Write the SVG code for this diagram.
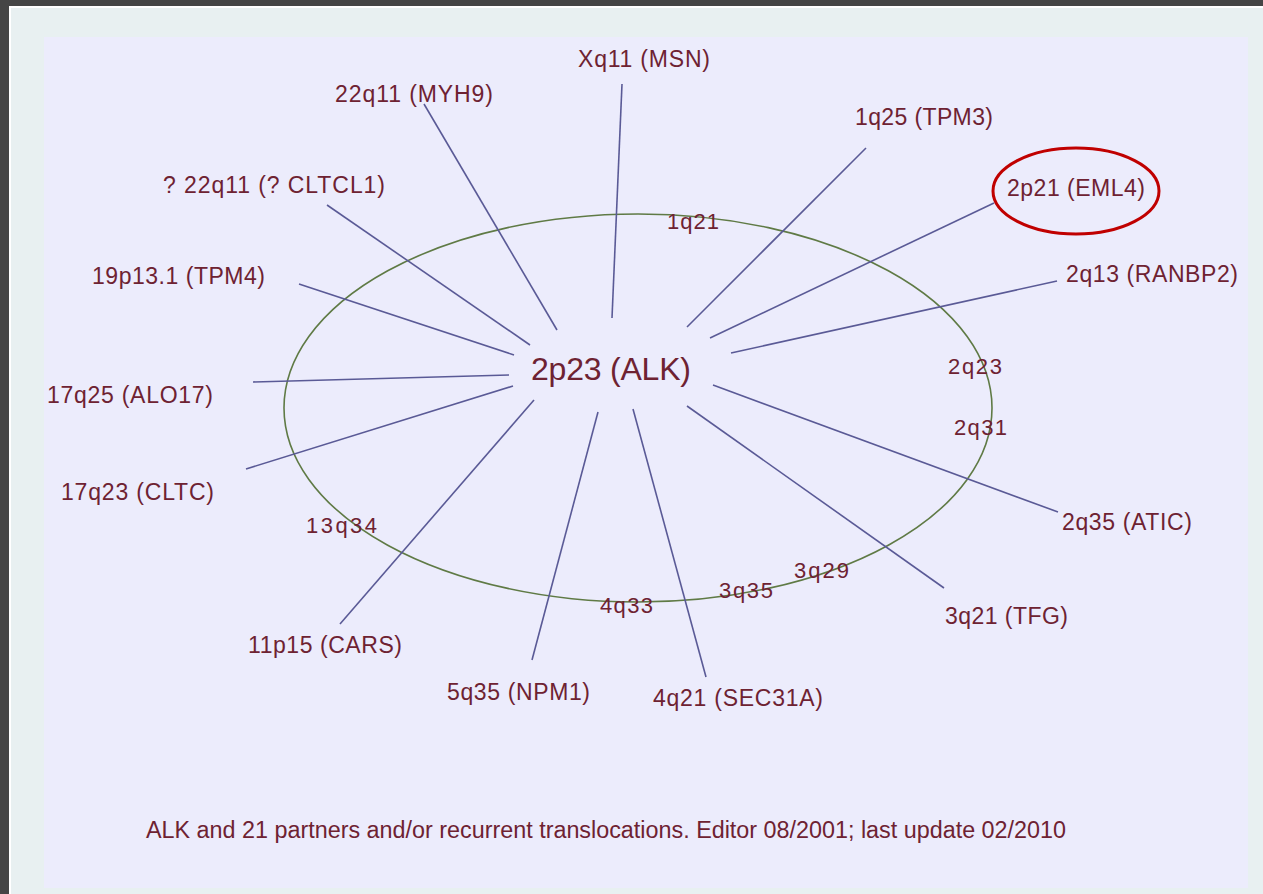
<svg xmlns="http://www.w3.org/2000/svg" width="1263" height="894" viewBox="0 0 1263 894">
<style>
.lbl{font-family:"Liberation Sans",Arial,sans-serif;font-size:23px;fill:#6e2232}
.band{font-family:"Liberation Sans",Arial,sans-serif;font-size:22px;fill:#6e2232}
.ln{stroke:#5a5a96;stroke-width:1.6;fill:none}
</style>
<rect x="0" y="0" width="1263" height="894" fill="#454545"/>
<rect x="9" y="6" width="1254" height="888" fill="#ffffff"/>
<rect x="11" y="8" width="1252" height="886" fill="#e8f0f1"/>
<rect x="44" y="37" width="1204" height="851" fill="#ececfc"/>
<g id="chromosome">
<ellipse cx="638" cy="408" rx="354" ry="194" fill="none" stroke="#5f7a45" stroke-width="1.6"/>
</g>
<g id="connectors">
<line class="ln" x1="622" y1="84" x2="612" y2="318"/>
<line class="ln" x1="424" y1="104" x2="557" y2="330"/>
<line class="ln" x1="866" y1="148" x2="687" y2="327"/>
<line class="ln" x1="327" y1="205" x2="530" y2="345"/>
<line class="ln" x1="994" y1="203" x2="710" y2="338"/>
<line class="ln" x1="299" y1="284" x2="514" y2="355"/>
<line class="ln" x1="1057" y1="281" x2="731" y2="353"/>
<line class="ln" x1="253" y1="382" x2="509" y2="375"/>
<line class="ln" x1="246" y1="469" x2="513" y2="386"/>
<line class="ln" x1="340" y1="624" x2="534" y2="400"/>
<line class="ln" x1="532" y1="660" x2="598" y2="412"/>
<line class="ln" x1="706" y1="677" x2="633" y2="409"/>
<line class="ln" x1="944" y1="588" x2="687" y2="406"/>
<line class="ln" x1="1058" y1="512" x2="713" y2="385"/>
</g>
<g id="bands">
<text class="band" x="667" y="229" textLength="52">1q21</text>
<text class="band" x="948" y="374" textLength="54">2q23</text>
<text class="band" x="954" y="435" textLength="53">2q31</text>
<text class="band" x="306" y="533" textLength="71">13q34</text>
<text class="band" x="600" y="613" textLength="53">4q33</text>
<text class="band" x="719" y="598" textLength="54">3q35</text>
<text class="band" x="794" y="578" textLength="55">3q29</text>
</g>
<g id="center"><text class="lbl" x="531" y="380" style="font-size:32px" textLength="160">2p23 (ALK)</text></g>
<g id="n-msn"><text class="lbl" x="578" y="67" textLength="132">Xq11 (MSN)</text></g>
<g id="n-myh9"><text class="lbl" x="335" y="102" textLength="158">22q11 (MYH9)</text></g>
<g id="n-tpm3"><text class="lbl" x="855" y="125" textLength="138">1q25 (TPM3)</text></g>
<g id="n-cltcl1"><text class="lbl" x="163" y="193" textLength="222">? 22q11 (? CLTCL1)</text></g>
<g id="n-eml4"><text class="lbl" x="1007" y="196" textLength="138">2p21 (EML4)</text>
<ellipse cx="1076" cy="191" rx="83" ry="43" fill="none" stroke="#c00000" stroke-width="3"/></g>
<g id="n-tpm4"><text class="lbl" x="92" y="284" textLength="173">19p13.1 (TPM4)</text></g>
<g id="n-ranbp2"><text class="lbl" x="1066" y="282" textLength="172">2q13 (RANBP2)</text></g>
<g id="n-alo17"><text class="lbl" x="47" y="403" textLength="166">17q25 (ALO17)</text></g>
<g id="n-cltc"><text class="lbl" x="61" y="500" textLength="153">17q23 (CLTC)</text></g>
<g id="n-cars"><text class="lbl" x="248" y="653" textLength="154">11p15 (CARS)</text></g>
<g id="n-npm1"><text class="lbl" x="447" y="700" textLength="143">5q35 (NPM1)</text></g>
<g id="n-sec31a"><text class="lbl" x="653" y="706" textLength="170">4q21 (SEC31A)</text></g>
<g id="n-tfg"><text class="lbl" x="945" y="624" textLength="123">3q21 (TFG)</text></g>
<g id="n-atic"><text class="lbl" x="1062" y="530" textLength="130">2q35 (ATIC)</text></g>
<g id="caption"><text class="lbl" x="146" y="838" style="font-size:23px" textLength="920" lengthAdjust="spacingAndGlyphs">ALK and 21 partners and/or recurrent translocations. Editor 08/2001; last update 02/2010</text></g>
</svg>
